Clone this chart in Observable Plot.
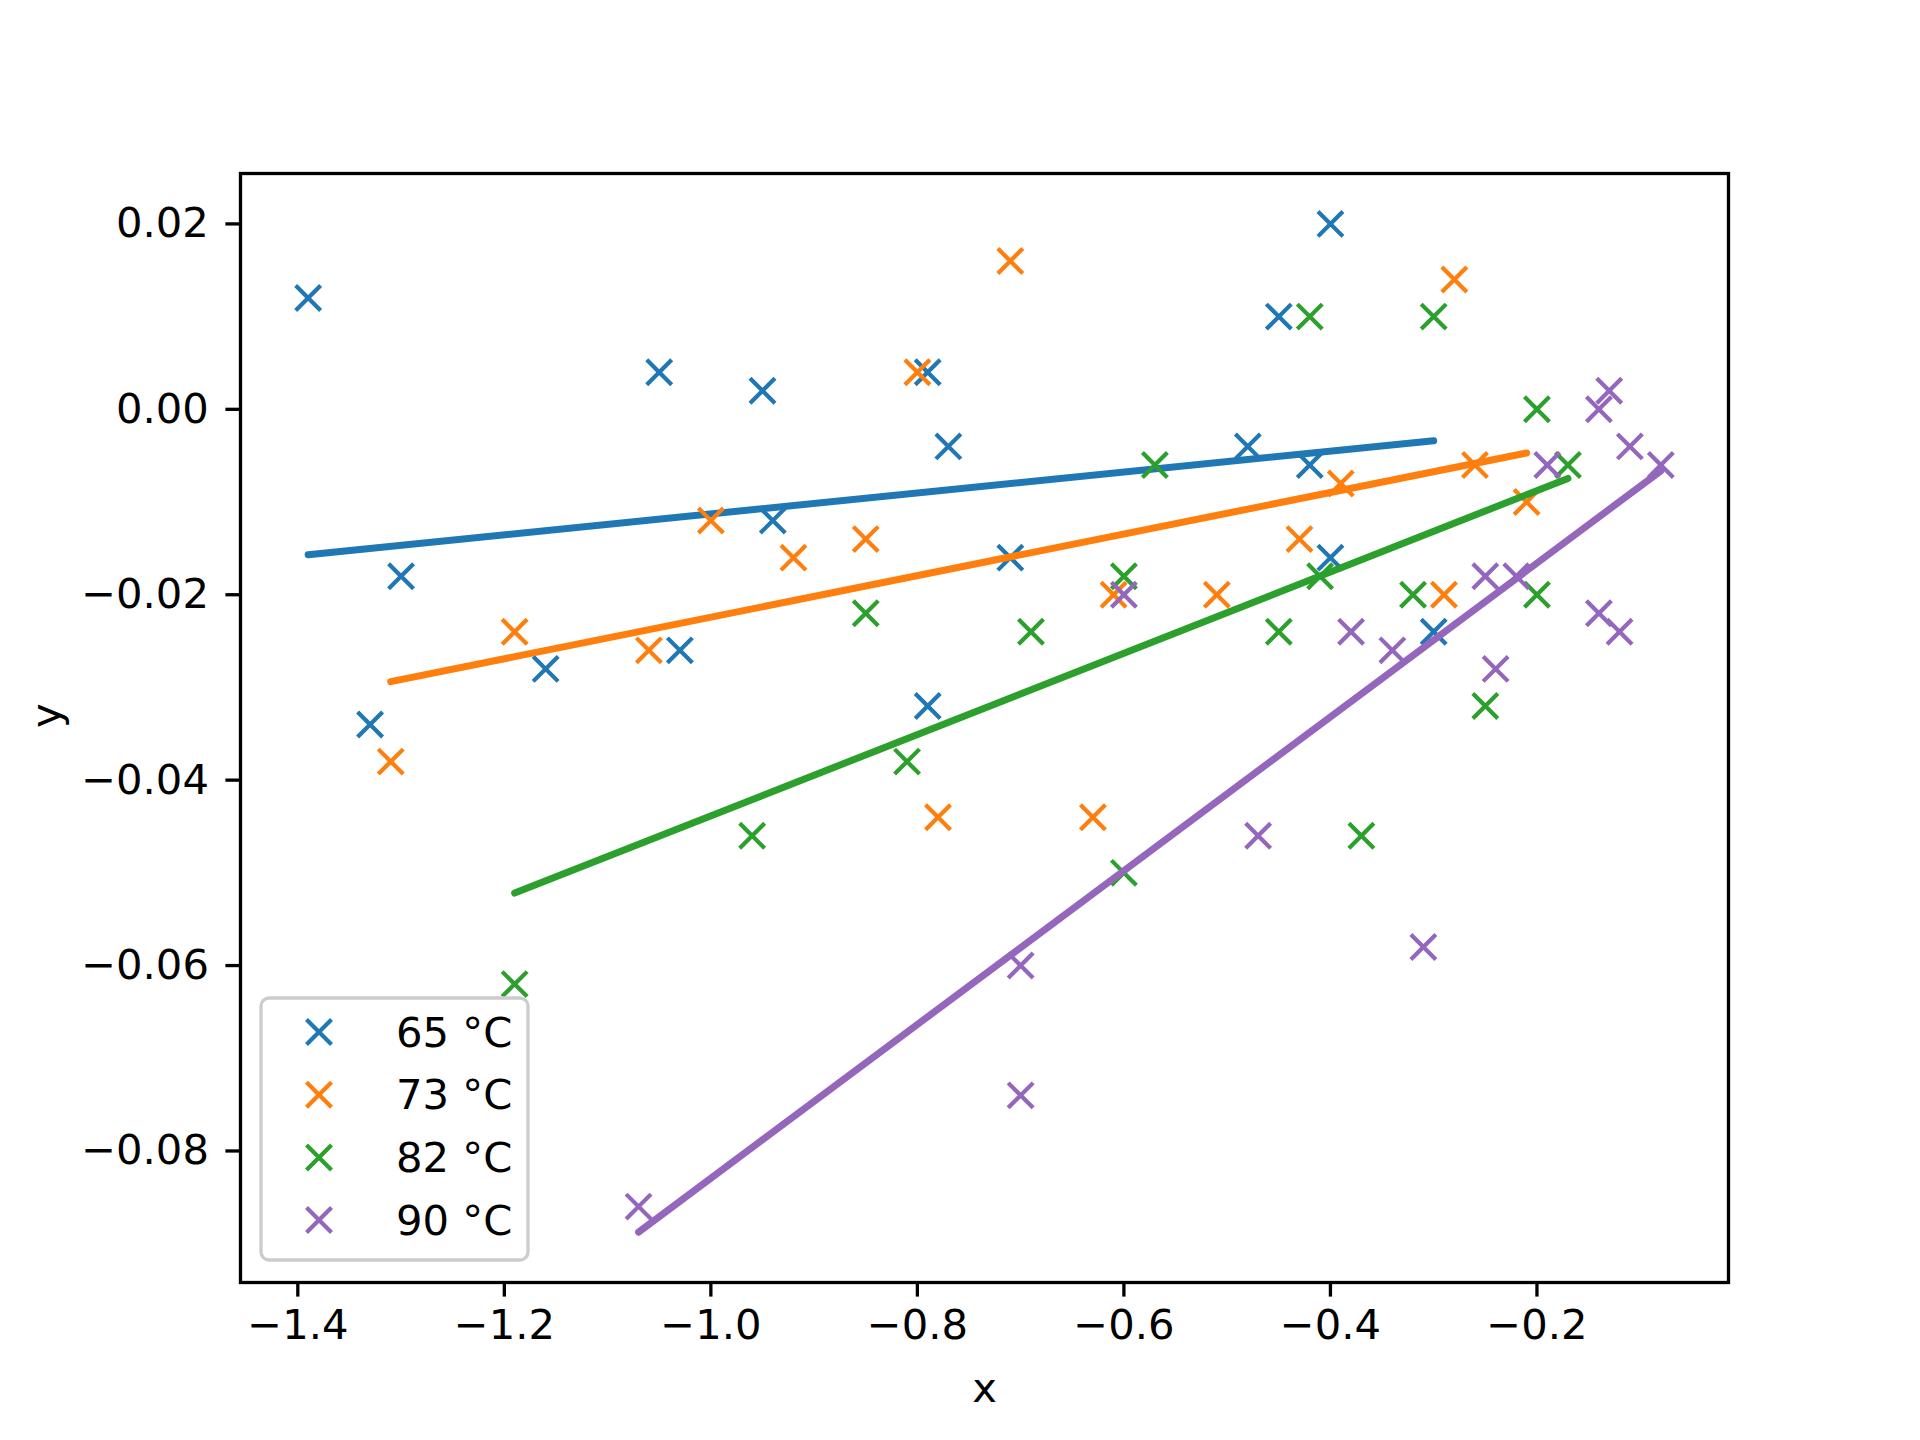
<!DOCTYPE html>
<html>
<head>
<meta charset="utf-8">
<script src="https://cdn.jsdelivr.net/npm/d3@7"></script>
<script src="https://cdn.jsdelivr.net/npm/@observablehq/plot@0.6"></script>
<style>
  html, body { margin: 0; padding: 0; background: #fff; }
  #chart { width: 1920px; height: 1440px; }
</style>
</head>
<body>
<div id="chart"></div>
<script>
// ---- data ----
const seriesLabels = ["65 °C", "73 °C", "82 °C", "90 °C"];
const seriesColors = ["#1f77b4", "#ff7f0e", "#2ca02c", "#9467bd"];

const x65 = [-1.39, -1.33, -1.30, -1.16, -1.05, -1.03, -0.95, -0.94, -0.79, -0.79, -0.77, -0.71, -0.48, -0.45, -0.42, -0.40, -0.40, -0.30];
const y65 = [0.012, -0.034, -0.018, -0.028, 0.004, -0.026, 0.002, -0.012, 0.004, -0.032, -0.004, -0.016, -0.004, 0.010, -0.006, 0.020, -0.016, -0.024];

const x73 = [-1.31, -1.19, -1.06, -1.00, -0.92, -0.85, -0.80, -0.78, -0.71, -0.63, -0.61, -0.51, -0.43, -0.39, -0.29, -0.28, -0.26, -0.21];
const y73 = [-0.038, -0.024, -0.026, -0.012, -0.016, -0.014, 0.004, -0.044, 0.016, -0.044, -0.020, -0.020, -0.014, -0.008, -0.020, 0.014, -0.006, -0.010];

const x82 = [-1.19, -0.96, -0.85, -0.81, -0.69, -0.60, -0.60, -0.57, -0.45, -0.42, -0.41, -0.37, -0.32, -0.30, -0.25, -0.20, -0.20, -0.17];
const y82 = [-0.062, -0.046, -0.022, -0.038, -0.024, -0.018, -0.050, -0.006, -0.024, 0.010, -0.018, -0.046, -0.020, 0.010, -0.032, 0.000, -0.020, -0.006];

const x90 = [-1.07, -0.70, -0.70, -0.60, -0.47, -0.38, -0.34, -0.31, -0.25, -0.24, -0.22, -0.19, -0.14, -0.14, -0.13, -0.12, -0.11, -0.08];
const y90 = [-0.086, -0.060, -0.074, -0.020, -0.046, -0.024, -0.026, -0.058, -0.018, -0.028, -0.018, -0.006, -0.022, 0.000, 0.002, -0.024, -0.004, -0.006];

const xTicks = [-1.4, -1.2, -1.0, -0.8, -0.6, -0.4, -0.2];
const yTicks = [0.02, 0.00, -0.02, -0.04, -0.06, -0.08];

// ---- build tables ----
const xs = [x65, x73, x82, x90];
const ys = [y65, y73, y82, y90];
const series = seriesLabels.map((label, i) => ({
  label, color: seriesColors[i],
  points: xs[i].map((x, j) => ({x, y: ys[i][j], label}))
}));

// least-squares fit through the origin (y = b·x), drawn over each series' x extent
function fit(points) {
  const b = d3.sum(points, d => d.x * d.y) / d3.sum(points, d => d.x * d.x);
  const [x0, x1] = d3.extent(points, d => d.x);
  return [{x: x0, y: b * x0}, {x: x1, y: b * x1}];
}
series.forEach(s => s.fitLine = fit(s.points));

// matplotlib-like autoscale with 5% margins
const allX = series.flatMap(s => s.points.map(d => d.x).concat(s.fitLine.map(d => d.x)));
const allY = series.flatMap(s => s.points.map(d => d.y).concat(s.fitLine.map(d => d.y)));
function padded([lo, hi]) { const m = (hi - lo) * 0.05; return [lo - m, hi + m]; }
const xDomain = padded(d3.extent(allX));
const yDomain = padded(d3.extent(allY));

const W = 1920, H = 1440;
const mL = 240, mR = 192, mT = 173, mB = 158;
const FS = 41.7;

const marks = [];
series.forEach(s => {
  marks.push(Plot.dot(s.points, {x: "x", y: "y", symbol: "times", r: 11.4, stroke: s.color, strokeWidth: 4.2}));
  marks.push(Plot.line(s.fitLine, {x: "x", y: "y", stroke: s.color, strokeWidth: 7, strokeLinecap: "round"}));
});

const chart = Plot.plot({
  width: W, height: H,
  marginLeft: mL, marginRight: mR, marginTop: mT, marginBottom: mB,
  style: {fontFamily: "DejaVu Sans, sans-serif", fontSize: FS + "px", background: "#fff", color: "#000"},
  x: {domain: xDomain},
  y: {domain: yDomain},
  marks: [
    ...marks,
    Plot.axisX({ticks: xTicks, tickFormat: d3.format(".1f"), tickSize: 14.6, tickPadding: 12, strokeWidth: 3.3, label: null, fontSize: FS}),
    Plot.axisY({ticks: yTicks, tickFormat: d3.format(".2f"), tickSize: 14.6, tickPadding: 17, strokeWidth: 3.3, label: null, fontSize: FS}),
    Plot.frame({stroke: "#000", strokeWidth: 3.3}),
    Plot.text(["x"], {frameAnchor: "bottom", dy: 106, text: d => d, fontSize: FS, lineAnchor: "middle"}),
    Plot.text(["y"], {frameAnchor: "left", dx: -194, text: d => d, fontSize: FS, rotate: -90, lineAnchor: "middle"})
  ]
});

// ---- legend (lower left, matplotlib style) ----
const svg = d3.select(chart);
const lg = svg.append("g").attr("text-anchor", "start");
const lx = 261, ly = 998, lw = 267, lh = 262;
lg.append("rect").attr("x", lx).attr("y", ly).attr("width", lw).attr("height", lh)
  .attr("rx", 8).attr("ry", 8).attr("fill", "#fff").attr("fill-opacity", 0.8)
  .attr("stroke", "#cccccc").attr("stroke-width", 3.3);
series.forEach((s, i) => {
  const cy = 1032 + i * 62.7;
  const cx = 319, h = 12.5;
  lg.append("path").attr("d", `M${cx - h},${cy - h}L${cx + h},${cy + h}M${cx - h},${cy + h}L${cx + h},${cy - h}`)
    .attr("stroke", s.color).attr("stroke-width", 4.2).attr("fill", "none");
  lg.append("text").attr("x", 396).attr("y", cy).attr("dy", "0.35em")
    .attr("text-anchor", "start")
    .attr("font-family", "DejaVu Sans, sans-serif").attr("font-size", FS).attr("fill", "#000")
    .text(s.label);
});

document.getElementById("chart").appendChild(chart);
</script>
</body>
</html>
